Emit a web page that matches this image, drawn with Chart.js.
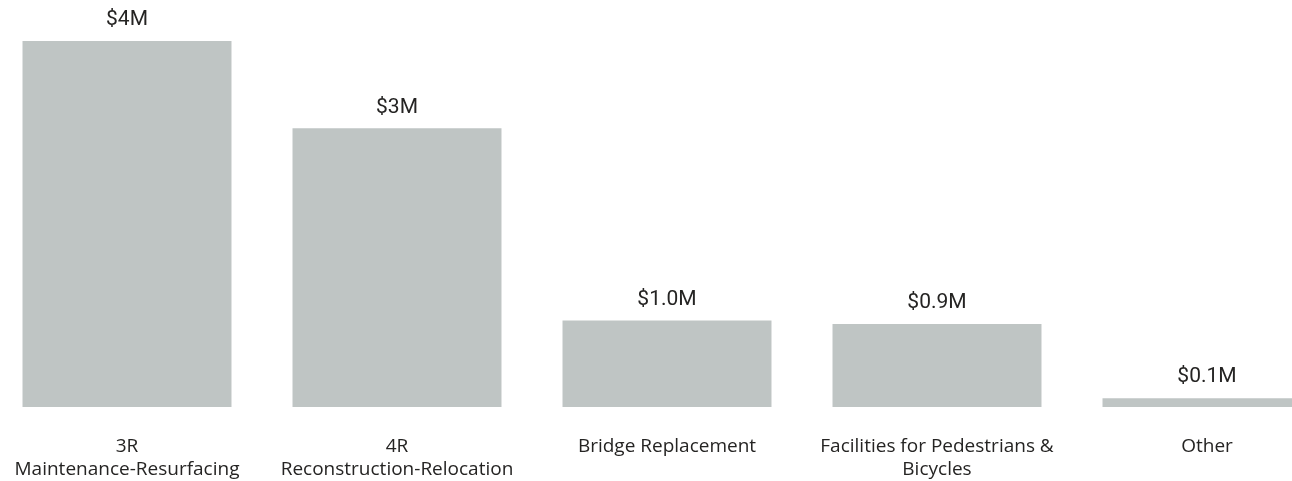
<!DOCTYPE html>
<html>
<head>
<meta charset="utf-8">
<script src="https://cdn.jsdelivr.net/npm/chart.js@4.4.1/dist/chart.umd.min.js"></script>
<style>
    html, body { margin: 0; padding: 0; background: #fff; overflow: hidden; }
    #wrap { position: absolute; left: -8px; top: 0; width: 1350px; height: 481px; }
</style>
</head>
<body>
<div id="wrap"><canvas id="spendChart"></canvas></div>
<script>
// categories and values (millions of dollars)
const categories = [
    ['3R', 'Maintenance-Resurfacing'],
    ['4R', 'Reconstruction-Relocation'],
    'Bridge Replacement',
    ['Facilities for Pedestrians &', 'Bicycles'],
    'Other'
];
const amounts = [4.15, 3.16, 0.98, 0.94, 0.10];

const formatAmount = (v) => v >= 2 ? '$' + v.toFixed(0) + 'M' : '$' + v.toFixed(1) + 'M';

// draws the value above each bar
const valueLabels = {
    id: 'valueLabels',
    afterDatasetsDraw(chart) {
        const ctx = chart.ctx;
        const meta = chart.getDatasetMeta(0);
        ctx.save();
        ctx.font = '400 21px Roboto';
        ctx.fillStyle = '#252423';
        ctx.textAlign = 'center';
        ctx.textBaseline = 'middle';
        meta.data.forEach((bar, i) => {
            ctx.fillText(formatAmount(amounts[i]), bar.x, bar.y - 21);
        });
        ctx.restore();
    }
};

const ctx = document.getElementById('spendChart').getContext('2d');
new Chart(ctx, {
    type: 'bar',
    data: {
        labels: categories,
        datasets: [{
            data: amounts,
            backgroundColor: '#bfc5c4',
            borderWidth: 0,
            categoryPercentage: 1,
            barPercentage: 0.774
        }]
    },
    options: {
        responsive: true,
        maintainAspectRatio: false,
        animation: false,
        layout: { padding: { top: 41, bottom: 0, left: 0, right: 0 } },
        plugins: {
            legend: { display: false },
            tooltip: { enabled: false }
        },
        scales: {
            x: {
                grid: { display: false, drawTicks: false },
                border: { display: false },
                afterFit: (scale) => {
                    scale.height = 74;
                    scale.paddingLeft = 0;
                    scale.paddingRight = 0;
                },
                ticks: {
                    padding: 28,
                    color: '#252423',
                    maxRotation: 0,
                    autoSkip: false,
                    font: { family: 'Open Sans', size: 19, lineHeight: '23px' }
                }
            },
            y: {
                display: false,
                min: 0,
                max: 4.15
            }
        }
    },
    plugins: [valueLabels]
});
</script>
</body>
</html>
